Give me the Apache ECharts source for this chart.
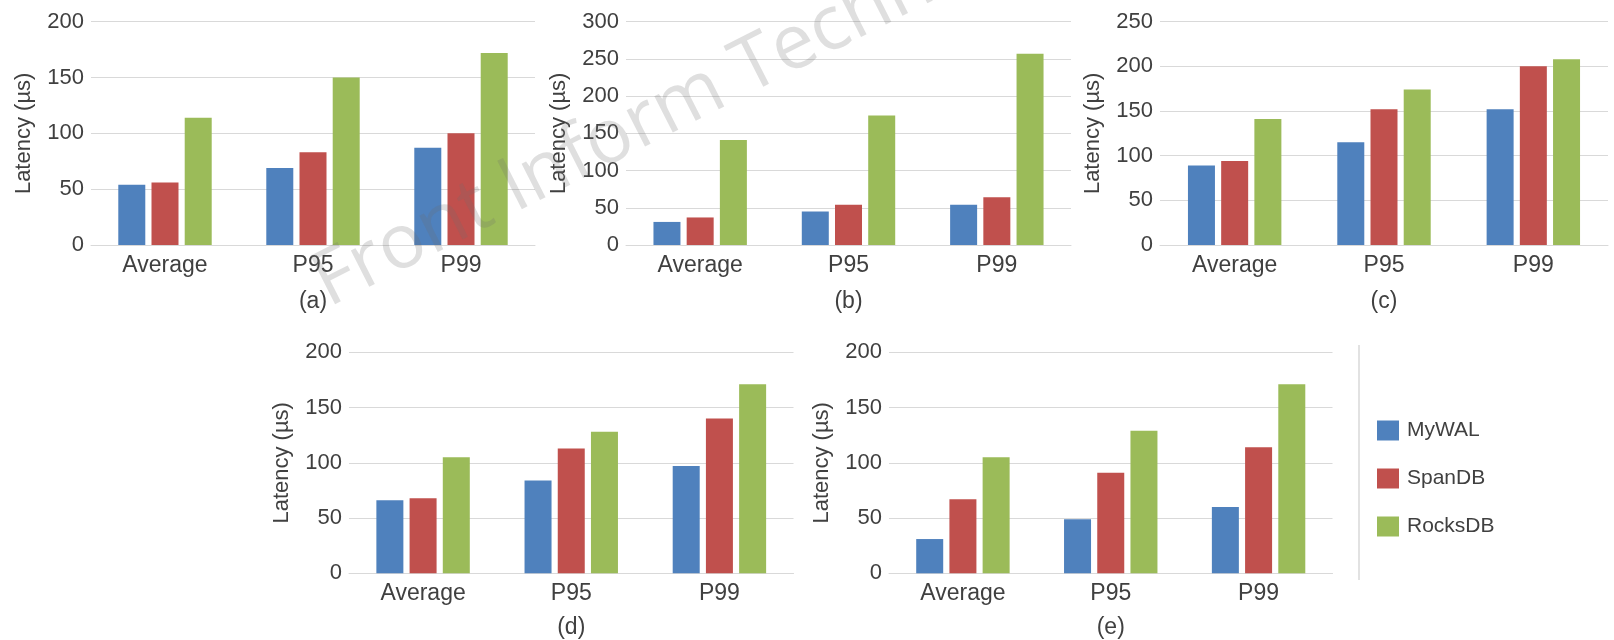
<!DOCTYPE html>
<html>
<head>
<meta charset="utf-8">
<title>Latency comparison: MyWAL, SpanDB, RocksDB</title>
<script src="https://cdn.jsdelivr.net/npm/echarts@6/dist/echarts.min.js"></script>
<style>
  html, body { margin: 0; padding: 0; background: #ffffff; }
  #chart { width: 1614px; height: 640px; }
</style>
</head>
<body>
<div id="chart"></div>
<script>
// Categories and series shared by all five panels
const categories = ['Average', 'P95', 'P99'];
const seriesNames = ['MyWAL', 'SpanDB', 'RocksDB'];
const seriesColors = ['#4f81bd', '#c0504d', '#9bbb59'];

// Latency values in microseconds, one array per system and panel
const a_MyWAL   = [54, 69, 87];
const a_SpanDB  = [56, 83, 100];
const a_RocksDB = [114, 150, 172];

const b_MyWAL   = [31, 45, 54];
const b_SpanDB  = [37, 54, 64];
const b_RocksDB = [141, 174, 257];

const c_MyWAL   = [89, 115, 152];
const c_SpanDB  = [94, 152, 200];
const c_RocksDB = [141, 174, 208];

const d_MyWAL   = [66, 84, 97];
const d_SpanDB  = [68, 113, 140];
const d_RocksDB = [105, 128, 171];

const e_MyWAL   = [31, 49, 60];
const e_SpanDB  = [67, 91, 114];
const e_RocksDB = [105, 129, 171];

// Y axis ranges per panel
const yMax = [200, 300, 250, 200, 200];
const yStep = 50;
const panelLabels = ['(a)', '(b)', '(c)', '(d)', '(e)'];
const yAxisTitle = 'Latency (µs)';

const panelData = [
  [a_MyWAL, a_SpanDB, a_RocksDB],
  [b_MyWAL, b_SpanDB, b_RocksDB],
  [c_MyWAL, c_SpanDB, c_RocksDB],
  [d_MyWAL, d_SpanDB, d_RocksDB],
  [e_MyWAL, e_SpanDB, e_RocksDB]
];

// Plot areas (pixels)
const grids = [
  { left: 91,  top: 21.7,  width: 444,   height: 223.3 },
  { left: 626, top: 21.7,  width: 445,   height: 223.3 },
  { left: 1160, top: 21.7, width: 448,   height: 223.3 },
  { left: 349, top: 352.3, width: 444.5, height: 221 },
  { left: 889, top: 352.3, width: 443.5, height: 221 }
];

const FONT = '"Liberation Sans", Arial, sans-serif';
const TEXT = '#404040';
const GRIDLINE = '#d9d9d9';

const xAxes = [], yAxes = [], series = [], graphics = [];

grids.forEach((g, i) => {
  xAxes.push({
    type: 'category',
    gridIndex: i,
    data: categories,
    axisLine: { show: true, lineStyle: { color: GRIDLINE, width: 1 } },
    axisTick: { show: false },
    axisLabel: { color: TEXT, fontSize: 23, fontFamily: FONT, margin: 9 }
  });
  yAxes.push({
    type: 'value',
    gridIndex: i,
    min: 0,
    max: yMax[i],
    interval: yStep,
    name: yAxisTitle,
    nameLocation: 'middle',
    nameGap: 56,
    nameTextStyle: { color: TEXT, fontSize: 22, fontFamily: FONT },
    axisLine: { show: false },
    axisTick: { show: false },
    splitLine: { lineStyle: { color: GRIDLINE, width: 1 } },
    axisLabel: { color: TEXT, fontSize: 22, fontFamily: FONT, margin: 7 }
  });
  panelData[i].forEach((vals, s) => {
    series.push({
      type: 'bar',
      name: seriesNames[s],
      xAxisIndex: i,
      yAxisIndex: i,
      data: vals,
      barWidth: 27,
      barGap: '23%',
      itemStyle: { color: seriesColors[s] },
      emphasis: { disabled: true },
      animation: false
    });
  });
  // Panel caption under each chart
  graphics.push({
    type: 'text',
    x: g.left + g.width / 2,
    y: i < 3 ? 302 : 628,
    style: {
      text: panelLabels[i],
      fill: TEXT,
      font: '23px ' + FONT,
      textAlign: 'center',
      textVerticalAlign: 'middle'
    }
  });
});

// Separator between the lower panels and the legend
graphics.push({
  type: 'line',
  shape: { x1: 1359, y1: 345, x2: 1359, y2: 580 },
  style: { stroke: GRIDLINE, lineWidth: 1.5 }
});

// Publisher watermark across the upper panels
graphics.push({
  type: 'text',
  x: 336,
  y: 322,
  rotation: 0.47,
  z: 100,
  style: {
    text: 'Front Inform Technol',
    fill: 'rgba(110,110,110,0.22)',
    font: '76px "Open Sans", "Liberation Sans", sans-serif',
    textAlign: 'left',
    textVerticalAlign: 'bottom'
  }
});

const chart = echarts.init(document.getElementById('chart'), null, { renderer: 'canvas' });
chart.setOption({
  animation: false,
  backgroundColor: '#ffffff',
  grid: grids.map(g => Object.assign({ containLabel: false }, g)),
  xAxis: xAxes,
  yAxis: yAxes,
  series: series,
  legend: {
    data: seriesNames,
    orient: 'vertical',
    left: 1377,
    top: 420,
    padding: 0,
    icon: 'rect',
    itemWidth: 22,
    itemHeight: 20,
    itemGap: 27,
    textStyle: { color: TEXT, fontSize: 21, fontFamily: FONT, padding: [0, 0, 0, 3] },
    selectedMode: false
  },
  graphic: graphics
});
</script>
</body>
</html>
